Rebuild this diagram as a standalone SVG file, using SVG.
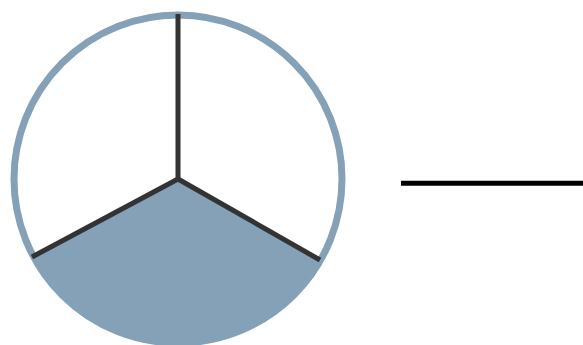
<svg xmlns="http://www.w3.org/2000/svg" width="583" height="345" viewBox="0 0 583 345">
<style>
.spoke{stroke:#333333;stroke-width:5;fill:none;stroke-linecap:butt}
</style>
<rect width="583" height="345" fill="#ffffff"/>
<g id="pie">
<circle cx="178" cy="179" r="164" fill="#ffffff"/>
<path d="M178,179 L32,257 A164,164 0 0 0 320,260 Z" fill="#84a1b8"/>
<circle cx="178" cy="179" r="164" fill="none" stroke="#84a1b8" stroke-width="7"/>
<line class="spoke" x1="178" y1="179" x2="178" y2="14"/>
<line class="spoke" x1="178" y1="179" x2="32" y2="257"/>
<line class="spoke" x1="178" y1="179" x2="320" y2="260"/>
</g>
<g id="connectors">
<line x1="401" y1="183.3" x2="583" y2="183.3" stroke="#000000" stroke-width="5"/>
</g>
</svg>
